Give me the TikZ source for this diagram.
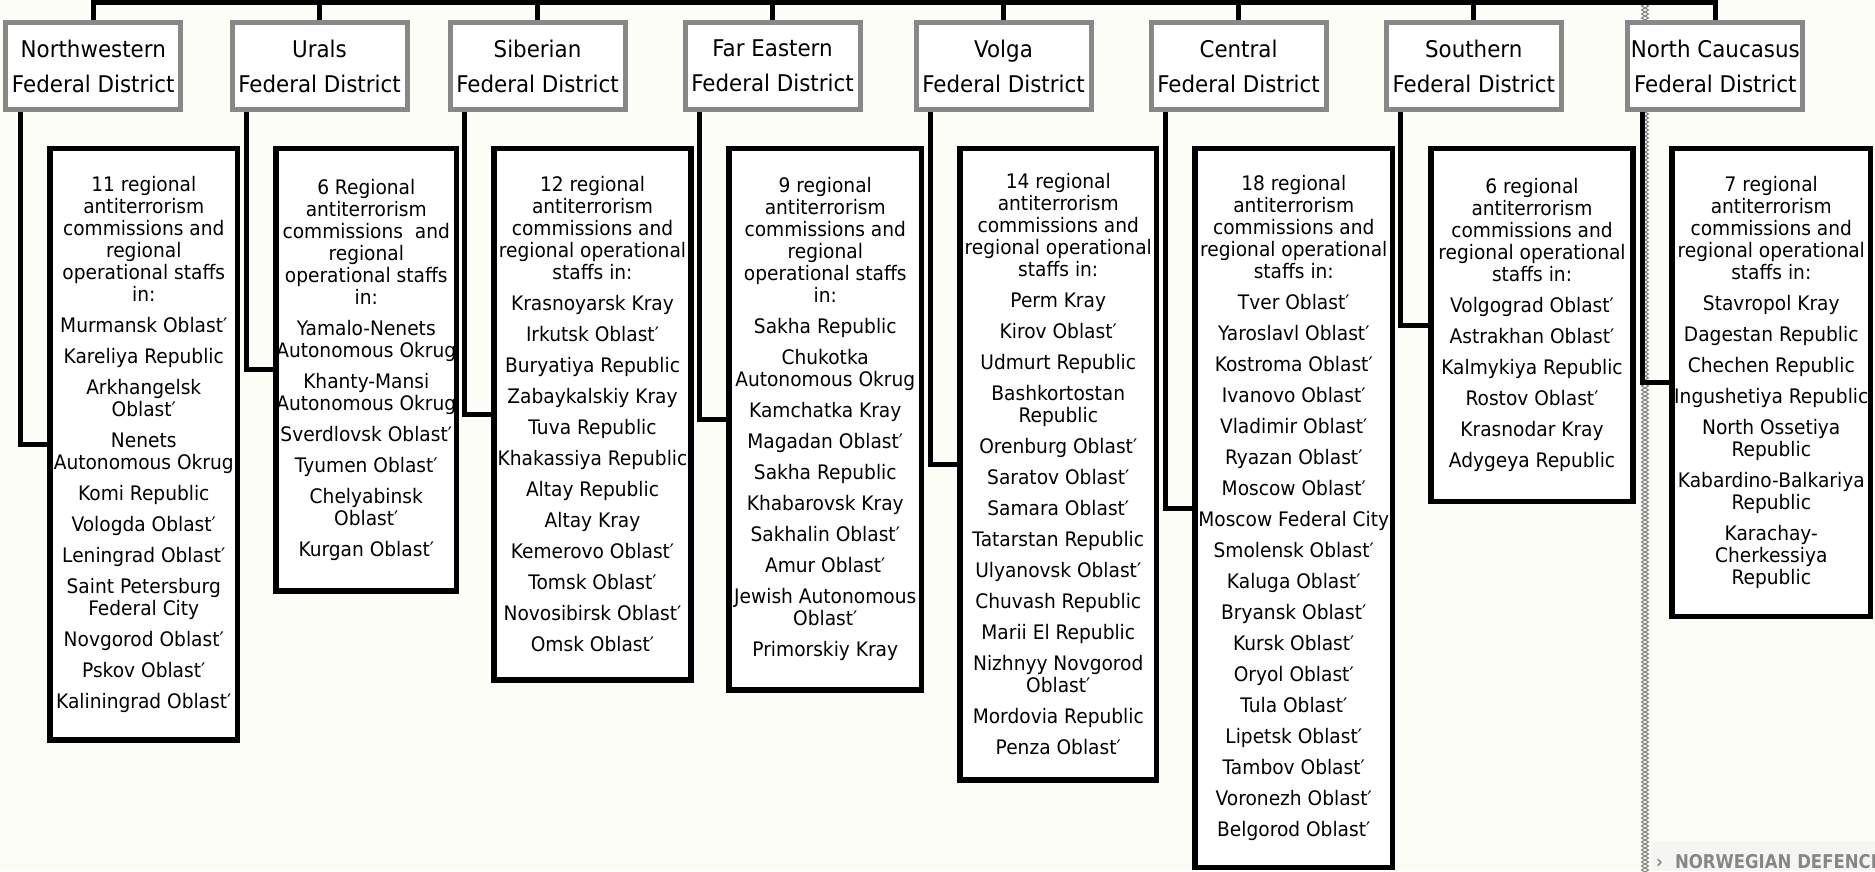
\documentclass[tikz,border=0pt]{standalone}
\usepackage{fontspec}
\setmainfont{DejaVu Sans}[FakeStretch=0.93]
\newfontfamily\nfont{DejaVu Sans}[FakeStretch=0.87]
\usetikzlibrary{decorations.pathmorphing}
\definecolor{bgc}{RGB}{252,253,246}
\definecolor{hdrgray}{RGB}{136,136,136}
\definecolor{zzgray}{RGB}{125,125,125}
\definecolor{ftgray}{RGB}{135,135,135}
\definecolor{ftbg}{RGB}{245,245,242}
\newcommand{\bxfont}{\fontsize{20}{22}\selectfont}
\newcommand{\hdfont}{\fontsize{23}{35}\selectfont}
\newcommand{\ftfont}{\nfont\bfseries\fontsize{19}{19}\selectfont}
\newcommand{\gp}{\\[9pt]}
\begin{document}
\begin{tikzpicture}[x=1pt,y=-1pt,
  hdr/.style={draw=hdrgray, line width=5pt, fill=white, align=center, inner sep=0pt,
              minimum width=175pt, minimum height=87pt, font=\hdfont},
  rbox/.style={draw=black, line width=5.5pt, fill=white, align=center, inner sep=0pt, font=\bxfont},
  conn/.style={draw=black, line width=5pt},
  zz/.style={draw=zzgray, line width=1pt, decorate,
             decoration={zigzag, segment length=8pt, amplitude=3.5pt}}]
\fill[bgc] (0,0) rectangle (1875,871);
\useasboundingbox (0,0) rectangle (1875,871);
\clip (0,0) rectangle (1875,871);

% page separator
\coordinate (zt) at (1645,4);
\coordinate (zb) at (1645,875);
\draw[zz] (zt) -- (zb);
\draw[zz, decoration={mirror}] (zt) -- (zb);

% footer
\fill[ftbg] (1652,842) rectangle (1875,871);
\node[anchor=base west, text=ftgray, font=\ftfont, inner sep=0pt] (ndf) at (1656,868.5) {›\hspace{12pt}NORWEGIAN DEFENCE};

\coordinate (topy) at (0,2.5);

% headers
\node[hdr] (h1) at (93.25,66) {Northwestern\\Federal District};
\node[hdr] (h2) at (319.5,66) {Urals\\Federal District};
\node[hdr] (h3) at (537.5,66) {Siberian\\Federal District};
\node[hdr] (h4) at (772.5,66) {Far Eastern\\Federal District};
\node[hdr] (h5) at (1003.5,66) {Volga\\Federal District};
\node[hdr] (h6) at (1238.5,66) {Central\\Federal District};
\node[hdr] (h7) at (1473.75,66) {Southern\\Federal District};
\node[hdr] (h8) at (1715.25,66) {North Caucasus\\Federal District};

% boxes
\node[rbox, minimum width=187.5pt, minimum height=591.5pt] (b1) at (143.75,444.25)
 {11 regional\\antiterrorism\\commissions and\\regional\\operational staffs\\in:\gp
  Murmansk Oblast′\gp Kareliya Republic\gp Arkhangelsk\\Oblast′\gp Nenets\\Autonomous Okrug\gp
  Komi Republic\gp Vologda Oblast′\gp Leningrad Oblast′\gp Saint Petersburg\\Federal City\gp
  Novgorod Oblast′\gp Pskov Oblast′\gp Kaliningrad Oblast′};
\node[rbox, minimum width=180.5pt, minimum height=442.5pt] (b2) at (366.25,369.75)
 {6 Regional\\antiterrorism\\commissions\ \ and\\regional\\operational staffs\\in:\gp
  Yamalo-Nenets\\Autonomous Okrug\gp Khanty-Mansi\\Autonomous Okrug\gp Sverdlovsk Oblast′\gp
  Tyumen Oblast′\gp Chelyabinsk\\Oblast′\gp Kurgan Oblast′};
\node[rbox, minimum width=197pt, minimum height=531.5pt] (b3) at (592.5,414.25)
 {12 regional\\antiterrorism\\commissions and\\regional operational\\staffs in:\gp
  Krasnoyarsk Kray\gp Irkutsk Oblast′\gp Buryatiya Republic\gp Zabaykalskiy Kray\gp
  Tuva Republic\gp Khakassiya Republic\gp Altay Republic\gp Altay Kray\gp
  Kemerovo Oblast′\gp Tomsk Oblast′\gp Novosibirsk Oblast′\gp Omsk Oblast′};
\node[rbox, minimum width=192.5pt, minimum height=541.5pt] (b4) at (825.25,419.25)
 {9 regional\\antiterrorism\\commissions and\\regional\\operational staffs\\in:\gp
  Sakha Republic\gp Chukotka\\Autonomous Okrug\gp Kamchatka Kray\gp Magadan Oblast′\gp
  Sakha Republic\gp Khabarovsk Kray\gp Sakhalin Oblast′\gp Amur Oblast′\gp
  Jewish Autonomous\\Oblast′\gp Primorskiy Kray};
\node[rbox, minimum width=196.5pt, minimum height=631.5pt] (b5) at (1058.25,464.25)
 {14 regional\\antiterrorism\\commissions and\\regional operational\\staffs in:\gp
  Perm Kray\gp Kirov Oblast′\gp Udmurt Republic\gp Bashkortostan\\Republic\gp
  Orenburg Oblast′\gp Saratov Oblast′\gp Samara Oblast′\gp Tatarstan Republic\gp
  Ulyanovsk Oblast′\gp Chuvash Republic\gp Marii El Republic\gp Nizhnyy Novgorod\\Oblast′\gp
  Mordovia Republic\gp Penza Oblast′};
\node[rbox, minimum width=197.5pt, minimum height=719pt] (b6) at (1293.75,508)
 {18 regional\\antiterrorism\\commissions and\\regional operational\\staffs in:\gp
  Tver Oblast′\gp Yaroslavl Oblast′\gp Kostroma Oblast′\gp Ivanovo Oblast′\gp
  Vladimir Oblast′\gp Ryazan Oblast′\gp Moscow Oblast′\gp Moscow Federal City\gp
  Smolensk Oblast′\gp Kaluga Oblast′\gp Bryansk Oblast′\gp Kursk Oblast′\gp
  Oryol Oblast′\gp Tula Oblast′\gp Lipetsk Oblast′\gp Tambov Oblast′\gp
  Voronezh Oblast′\gp Belgorod Oblast′};
\node[rbox, minimum width=202pt, minimum height=353pt] (b7) at (1532,325)
 {6 regional\\antiterrorism\\commissions and\\regional operational\\staffs in:\gp
  Volgograd Oblast′\gp Astrakhan Oblast′\gp Kalmykiya Republic\gp Rostov Oblast′\gp
  Krasnodar Kray\gp Adygeya Republic};
\node[rbox, minimum width=198.5pt, minimum height=468pt] (b8) at (1771.25,382.5)
 {7 regional\\antiterrorism\\commissions and\\regional operational\\staffs in:\gp
  Stavropol Kray\gp Dagestan Republic\gp Chechen Republic\gp Ingushetiya Republic\gp
  North Ossetiya\\Republic\gp Kabardino-Balkariya\\Republic\gp Karachay-\\Cherkessiya\\Republic};

% connectors
\draw[conn] (h1.north) -- (h1.north |- topy) -- (h8.north |- topy) -- (h8.north);
\foreach \i in {2,...,7} { \draw[conn] (h\i.north) -- (h\i.north |- topy); }
\foreach \i in {1,...,8} { \draw[conn] ([xshift=17pt]h\i.south west) |- (b\i.west); }
\end{tikzpicture}
\end{document}
